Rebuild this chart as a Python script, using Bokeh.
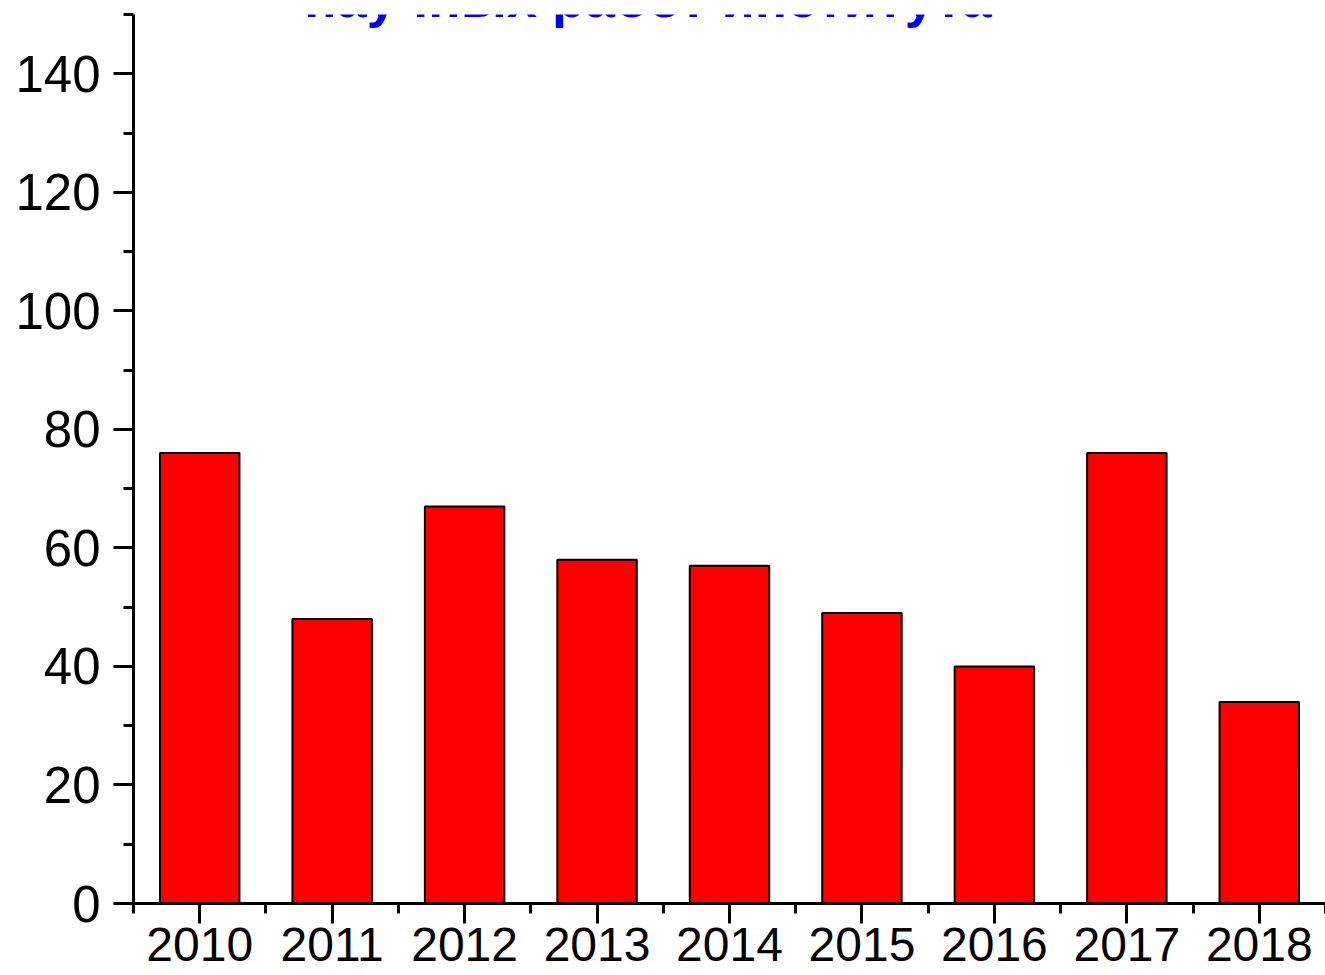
from bokeh.plotting import figure
from bokeh.models import Range1d, FixedTicker, Label
from bokeh.embed import file_html
from bokeh.resources import INLINE

years = [2010, 2011, 2012, 2013, 2014, 2015, 2016, 2017, 2018]
counts = [76, 48, 67, 58, 57, 49, 40, 76, 34]
y_ticks = [0, 20, 40, 60, 80, 100, 120, 140]
y_minor = [10, 30, 50, 70, 90, 110, 130, 150]
x_minor = [2009.5 + i for i in range(10)]
title_text = "научных работ института"

p = figure(width=1325, height=975, output_backend="svg", toolbar_location=None,
           x_range=Range1d(2009.5, 2018.5), y_range=Range1d(0, 150),
           min_border_left=133, min_border_right=0, min_border_top=14, min_border_bottom=72)
p.outline_line_color = None
p.xgrid.visible = False
p.ygrid.visible = False

p.vbar(x=years, top=counts, width=0.6, fill_color="#FF0000", line_color="black", line_width=2)

FONT = "Liberation Sans"
for ax in (p.xaxis[0], p.yaxis[0]):
    ax.axis_line_width = 3
    ax.axis_line_color = "black"
    ax.major_tick_line_width = 3
    ax.minor_tick_line_width = 3
    ax.major_tick_in = 0
    ax.minor_tick_in = 0
    ax.major_tick_out = 20
    ax.minor_tick_out = 10
    ax.major_label_text_font = FONT
    ax.major_label_text_color = "black"

p.xaxis[0].ticker = FixedTicker(ticks=years, minor_ticks=x_minor)
p.xaxis[0].major_label_text_font_size = "48px"
p.xaxis[0].major_label_standoff = 4
p.yaxis[0].ticker = FixedTicker(ticks=y_ticks, minor_ticks=y_minor)
p.yaxis[0].major_label_text_font_size = "51px"
p.yaxis[0].major_label_standoff = 13

p.add_layout(Label(x=2013.385, y=152.8, text=title_text, text_align="center",
                   text_baseline="alphabetic", text_font=FONT, text_font_style="bold",
                   text_font_size="54px", text_color="#0000FF"))

open("out.html", "w").write(file_html(p, INLINE))
